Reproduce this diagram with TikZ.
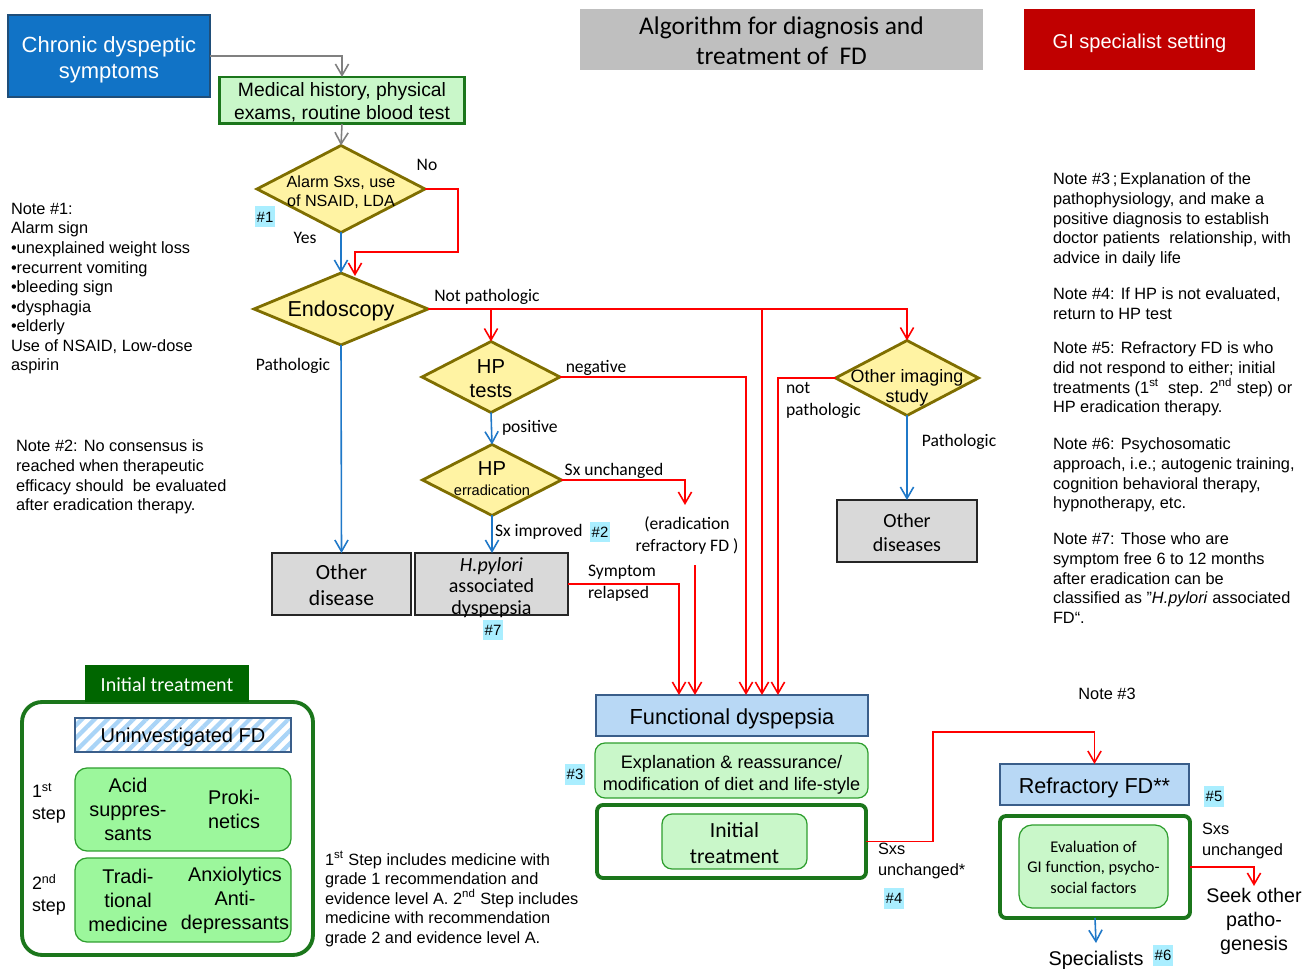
\documentclass[tikz,border=0pt]{standalone}
\usepackage{fontspec}
\setmainfont{Liberation Sans}
\newfontfamily\calib{Carlito}
\usetikzlibrary{shapes.geometric,arrows.meta,patterns.meta}
\newcommand\fs[2]{\fontsize{#1}{#2}\selectfont}
\definecolor{chronicblue}{HTML}{1173C6}
\definecolor{chronicborder}{HTML}{1F4E79}
\definecolor{palegreen}{HTML}{C9F7C9}
\definecolor{stepgreen}{HTML}{9CF79C}
\definecolor{thingreen}{HTML}{2E9E2E}
\definecolor{darkgreen}{HTML}{1B761B}
\definecolor{hdrgreen}{HTML}{006600}
\definecolor{diafill}{HTML}{FFF3A3}
\definecolor{diaborder}{HTML}{7F6E00}
\definecolor{boxgray}{HTML}{D9D9D9}
\definecolor{fdblue}{HTML}{B8D8F5}
\definecolor{fdborder}{HTML}{3A5E8A}
\definecolor{badgecol}{HTML}{AAEEFF}
\definecolor{titlegray}{HTML}{BFBFBF}
\definecolor{gired}{HTML}{C00000}
\definecolor{linered}{HTML}{FF0000}
\definecolor{lineblue}{HTML}{1F78C8}
\definecolor{linegray}{HTML}{808080}
\definecolor{stripe}{HTML}{A9D4F7}
\begin{document}
\begin{tikzpicture}[x=0.02cm,y=-0.02cm,
  every node/.style={inner sep=0pt,outer sep=0pt},
  conn/.style={line width=0.9pt,-{Straight Barb[length=6.5pt,width=7.5pt]}},
  gline/.style={conn,draw=linegray},
  rline/.style={conn,draw=linered},
  bline/.style={conn,draw=lineblue},
  dia/.style={diamond,draw=diaborder,fill=diafill,line width=1.6pt},
  graybox/.style={draw=black!85,fill=boxgray,line width=0.8pt},
  bluebox/.style={draw=fdborder,fill=fdblue,line width=0.8pt},
  paleround/.style={draw=thingreen,fill=palegreen,line width=0.7pt,rounded corners=0.2cm},
  stepbox/.style={draw=thingreen,fill=stepgreen,line width=0.7pt,rounded corners=0.24cm},
  framebox/.style={draw=darkgreen,fill=white,line width=2.2pt,rounded corners=0.12cm},
  badge/.style={fill=badgecol,minimum width=0.4cm,minimum height=0.42cm,font=\fs{8.5}{10}},
  lab/.style={font=\calib\fs{10}{12.5},align=left,yshift=-1.1pt},
  note/.style={anchor=north west,align=left,font=\fs{9.3}{11.15}},
  dtext/.style={align=center,font=\fs{9.2}{10.8}},
]
\useasboundingbox (0,0) rectangle (1312,969);

% top boxes
\node[fill=chronicblue,draw=chronicborder,line width=0.6pt,minimum width=4.04cm,minimum height=1.64cm,
  label={[align=center,text=white,font=\fs{12.5}{14.8},yshift=-2pt]center:{Chronic dyspeptic\\symptoms}}] (chronic) at (109,56) {};
\node[fill=palegreen,draw=darkgreen,line width=1.7pt,minimum width=4.92cm,minimum height=0.94cm,
  label={[align=center,font=\fs{11}{13.1},yshift=-1.1pt]center:{Medical history, physical\\exams, routine blood test}}] (medical) at (342,100.5) {};
\node[fill=titlegray,minimum width=8.06cm,minimum height=1.22cm,
  label={[align=center,font=\calib\fs{14.5}{17},yshift=-0.6pt]center:{Algorithm for diagnosis and\\treatment of~~FD}}] (title) at (781.5,39.5) {};
\node[fill=gired,minimum width=4.62cm,minimum height=1.22cm,
  label={[text=white,font=\fs{11.4}{13},yshift=-2.2pt]center:GI specialist setting}] (gi) at (1139.5,39.5) {};

% diamonds
\node[dia,minimum width=3.36cm,minimum height=1.74cm] (alarm) at (341,189) {};
\node[dtext] (alarmT) at (341,192) {Alarm Sxs, use\\of NSAID, LDA};
\node[dia,minimum width=3.48cm,minimum height=1.44cm] (endo) at (341,309) {};
\node[font=\fs{12.3}{14}] (endoT) at (341,311) {Endoscopy};
\node[dia,minimum width=2.76cm,minimum height=1.42cm] (hptests) at (491,377) {};
\node[align=center,font=\fs{11.5}{13.7}] (hptestsT) at (491,379) {HP\\tests};
\node[dia,minimum width=2.78cm,minimum height=1.42cm] (hperad) at (492,480) {};
\node[font=\fs{11.5}{13}] (hperadT1) at (492,469) {HP};
\node[font=\fs{8.3}{10}] (hperadT2) at (492,490) {erradication};
\node[dia,minimum width=2.86cm,minimum height=1.5cm] (imaging) at (907,378) {};
\node[align=center,font=\fs{10.2}{11.4}] (imagingT) at (907,388) {Other imaging\\study};

% gray boxes
\node[graybox,minimum width=2.78cm,minimum height=1.24cm,
  label={[align=center,font=\calib\fs{12.3}{14.8},yshift=-0.6pt]center:{Other\\disease}}] (otherdis) at (341.5,584) {};
\node[graybox,minimum width=3.06cm,minimum height=1.24cm,
  label={[align=center,font=\calib\fs{11.4}{12.2},yshift=-2pt]center:{\textit{H.pylori}\\associated\\dyspepsia}}] (hpylori) at (491.5,584) {};
\node[graybox,minimum width=2.8cm,minimum height=1.24cm,
  label={[align=center,font=\calib\fs{11.4}{13.7},yshift=-1.1pt]center:{Other\\diseases}}] (otherdiseases) at (907,531) {};

% right part
\node[bluebox,minimum width=5.44cm,minimum height=0.82cm,
  label={[font=\fs{12.4}{14},yshift=-1.7pt]center:Functional dyspepsia}] (fd) at (732,715.5) {};
\node[paleround,minimum width=5.46cm,minimum height=1.1cm,
  label={[align=center,font=\fs{10.3}{12.5},yshift=-2.5pt]center:{Explanation \& reassurance/\\modification of diet and life-style}}] (expl) at (731.5,770.5) {};
\node[framebox,minimum width=5.38cm,minimum height=1.46cm] (initO) at (731.5,841.5) {};
\node[paleround,minimum width=2.9cm,minimum height=1.1cm,
  label={[align=center,font=\calib\fs{12.3}{14.8},yshift=-0.9pt]center:{Initial\\treatment}}] (initI) at (734.5,841.5) {};
\node[bluebox,minimum width=3.78cm,minimum height=0.82cm,
  label={[font=\fs{12.3}{14},yshift=-1.7pt]center:Refractory FD**}] (refr) at (1094.5,784.5) {};
\node[framebox,minimum width=3.8cm,minimum height=2.04cm] (evalO) at (1095,867) {};
\node[paleround,minimum width=2.98cm,minimum height=1.66cm,rounded corners=0.26cm,
  label={[align=center,font=\calib\fs{9.3}{11.4},yshift=-0.5pt]center:{Evaluation of\\GI function, psycho-\\social factors}}] (evalI) at (1093.5,866.5) {};
\node[align=center,font=\fs{11.2}{13.7}] (seek) at (1254,921) {Seek other\\patho-\\genesis};
\node[font=\fs{11.3}{13}] (spec) at (1096,960) {Specialists};

% initial treatment panel
\node[draw=darkgreen,line width=2.2pt,rounded corners=0.4cm,minimum width=5.82cm,minimum height=5.06cm] (itbox) at (167.5,828.5) {};
\node[fill=hdrgreen,minimum width=3.28cm,minimum height=0.74cm,
  label={[text=white,font=\calib\fs{11.4}{13},yshift=-0.6pt]center:Initial treatment}] (ithdr) at (167,683.5) {};
\node[draw=fdborder,line width=0.8pt,preaction={fill=white},pattern={Lines[angle=45,distance=5.2pt,line width=2.4pt]},pattern color=stripe,minimum width=4.32cm,minimum height=0.68cm,
  label={[font=\fs{11.4}{13},yshift=-1.1pt]center:Uninvestigated FD}] (uninv) at (183,735) {};
\node[stepbox,minimum width=4.32cm,minimum height=1.66cm] (step1) at (183,809.5) {};
\node[stepbox,minimum width=4.32cm,minimum height=1.68cm] (step2) at (183,900) {};
\node[align=center,font=\fs{11.3}{13.7}] (acid) at (128,809) {Acid\\suppres-\\sants};
\node[align=center,font=\fs{11.3}{13.7}] (proki) at (234,809) {Proki-\\netics};
\node[align=center,font=\fs{11.3}{13.7}] (trad) at (128,900) {Tradi-\\tional\\medicine};
\node[align=center,font=\fs{11.3}{13.7}] (anx) at (235,900) {Anxiolytics\\Anti-\\depressants};
\node[anchor=west,align=left,font=\fs{10.2}{12.5}] (st1) at (32,803) {1\textsuperscript{st}\\step};
\node[anchor=west,align=left,font=\fs{10.2}{12.5}] (st2) at (32,895) {2\textsuperscript{nd}\\step};
\node[note] (stepnote) at (325,851) {1\textsuperscript{st} Step includes medicine with\\grade 1 recommendation and\\evidence level A. 2\textsuperscript{nd} Step includes\\medicine with recommendation\\grade 2 and evidence level A.};

% notes
\node[note] (note1) at (11,203) {Note \#1:\\Alarm sign\\•unexplained weight loss\\•recurrent vomiting\\•bleeding sign\\•dysphagia\\•elderly\\Use of NSAID, Low-dose\\aspirin};
\node[note] (note2) at (16,440) {Note \#2: No consensus is\\reached when therapeutic\\efficacy should~ be evaluated\\after eradication therapy.};
\node[note] (note3) at (1053,173) {Note \#3\,;\,Explanation of the\\pathophysiology, and make a\\positive diagnosis to establish\\doctor patients~ relationship, with\\advice in daily life};
\node[note] (note4) at (1053,288) {Note \#4: If HP is not evaluated,\\return to HP test};
\node[note] (note5) at (1053,342) {Note \#5: Refractory FD is who\\did not respond to either; initial\\treatments (1\textsuperscript{st}~ step. 2\textsuperscript{nd} step) or\\HP eradication therapy.};
\node[note] (note6) at (1053,438) {Note \#6: Psychosomatic\\approach, i.e.; autogenic training,\\cognition behavioral therapy,\\hypnotherapy, etc.};
\node[note] (note7) at (1053,533) {Note \#7: Those who are\\symptom free 6 to 12 months\\after eradication can be\\classified as "\textit{H.pylori} associated\\FD“.};

% labels
\node[lab] (lNo) at (427,163) {No};
\node[lab] (lYes) at (305,236) {Yes};
\node[lab] (lNotpath) at (487,295) {Not pathologic};
\node[lab] (lPath) at (293,364) {Pathologic};
\node[lab] (lneg) at (596,366) {negative};
\node[lab,anchor=west] (lpos) at (502,426) {positive};
\node[lab] (lSxu) at (614,469) {Sx unchanged};
\node[lab,anchor=west] (lSxi) at (495,530) {Sx improved};
\node[lab,align=center] (erefr) at (687,534) {(eradication\\refractory FD )};
\node[lab,anchor=west] (lsymp) at (588,581) {Symptom\\relapsed};
\node[lab,anchor=west] (lnotp) at (786,399) {not\\pathologic};
\node[lab] (lPath2) at (959,440) {Pathologic};
\node[font=\fs{9.3}{12}] (lnote3) at (1107,694) {Note \#3};
\node[anchor=west,align=left,font=\fs{9.3}{12.5}] (lsxs1) at (878,861) {Sxs\\unchanged*};
\node[anchor=west,align=left,font=\fs{9.3}{12}] (lsxs2) at (1202,841) {Sxs\\unchanged};

% badges
\node[badge] (b1) at (265,217) {\#1};
\node[badge] (b2) at (600,532) {\#2};
\node[badge] (b3) at (575,774) {\#3};
\node[badge] (b4) at (894,898) {\#4};
\node[badge] (b5) at (1214,796) {\#5};
\node[badge] (b6) at (1163,955) {\#6};
\node[badge] (b7) at (493,630) {\#7};

% coordinates
\coordinate (endoR) at (355,276);
\coordinate (erefA) at (685,505);
\coordinate (erefB) at (695,565);
\coordinate (fdA) at (679,695);
\coordinate (fdB) at (695,695);
\coordinate (fdC) at (746,695);
\coordinate (fdD) at (762,695);
\coordinate (fdE) at (778,695);
\coordinate (specA) at (1096,943);
\coordinate (seekA) at (1254,886);

% connectors
\draw[gline] (chronic.east) -| (medical.north);
\draw[gline] (medical.south) -- (alarm.north);
\draw[bline] (alarm.south) -- (endo.north);
\draw[rline] (alarm.east) -| (458,252) -| (endoR);
\draw[rline] (endo.east) -| (imaging.north);
\draw[rline] (endo.east -| hptests.north) -- (hptests.north);
\draw[rline] (endo.east -| fdD) -- (fdD);
\draw[bline] (endo.south) -- (otherdis.north);
\draw[rline] (hptests.east) -| (fdC);
\draw[bline] (hptests.south) -- (hperad.north);
\draw[rline] (hperad.east) -| (erefA);
\draw[rline] (erefB) -- (fdB);
\draw[bline] (hperad.south) -- (hperad.south |- hpylori.north);
\draw[rline] (hpylori.east) -| (fdA);
\draw[rline] (imaging.west) -| (fdE);
\draw[bline] (imaging.south) -- (otherdiseases.north);
\draw[rline] (initO.east) -| (933,732) -| (refr.north);
\draw[bline] (evalO.south) -- (specA);
\draw[rline] (evalO.east) -| (seekA);
\end{tikzpicture}
\end{document}
